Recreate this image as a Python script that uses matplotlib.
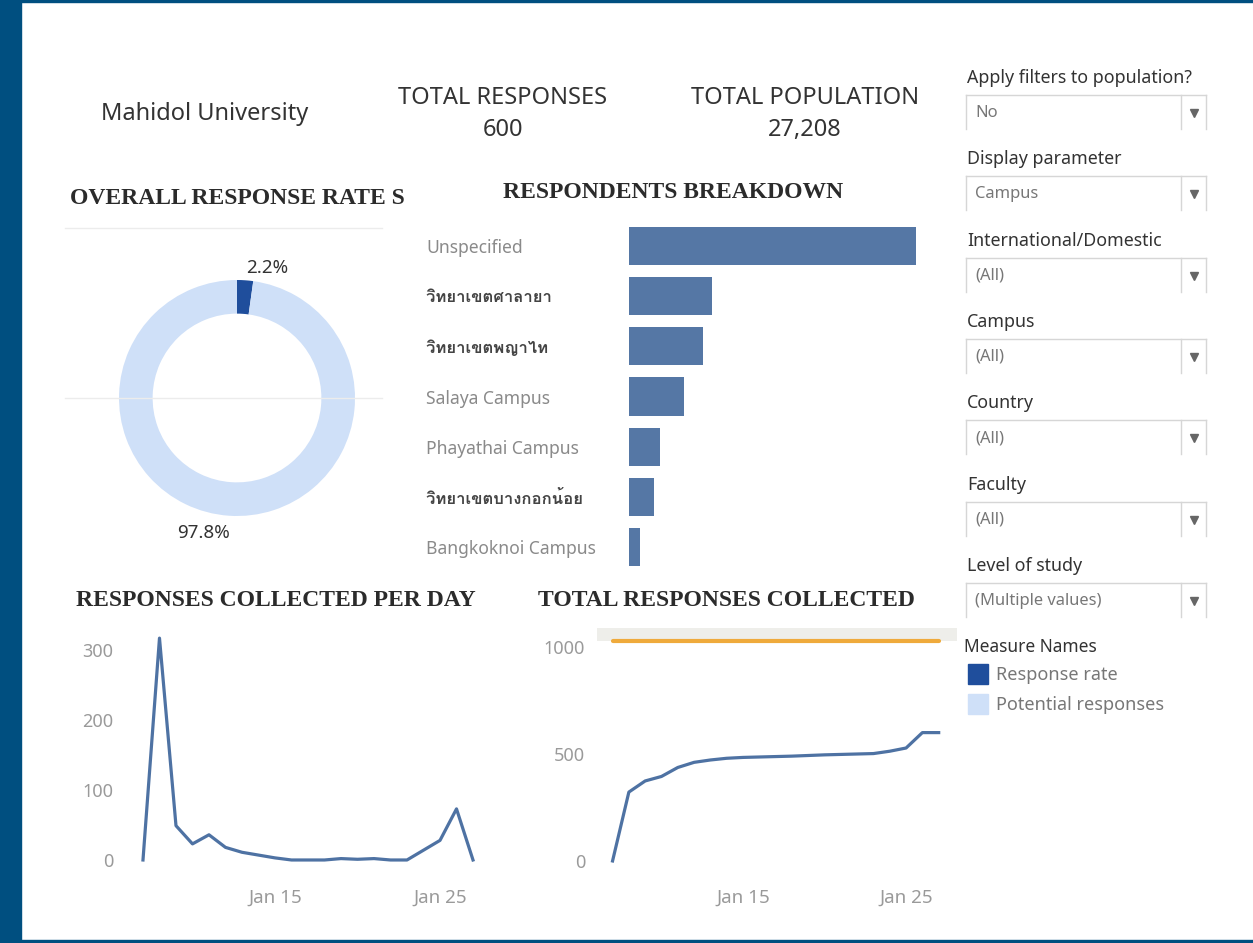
import datetime as dt

import matplotlib
matplotlib.use('Agg')
import matplotlib.pyplot as plt
import matplotlib.dates as mdates
from matplotlib import font_manager, ft2font
from matplotlib.lines import Line2D
from matplotlib.patches import Rectangle

# ---- data ----
header_title = 'Mahidol University'
total_responses = 600
total_population = 27208

rate_labels = ['Response rate', 'Potential responses']
rate_values = [2.2, 97.8]

campus_names = ['Unspecified', 'วิทยาเขตศาลายา', 'วิทยาเขตพญาไท', 'Salaya Campus',
                'Phayathai Campus', 'วิทยาเขตบางกอกน้อย', 'Bangkoknoi Campus']
campus_counts = [304, 88, 78, 58, 33, 27, 12]

day_numbers = list(range(7, 28))  # Jan 7 .. Jan 27
daily_responses = [0, 317, 49, 23, 36, 18, 11, 7, 3, 0, 0, 0, 2, 1, 2, 0, 0, 14, 28, 73, 0]
cumulative_responses = [0, 322, 374, 395, 437, 461, 472, 480, 484, 486, 488, 490, 493,
                        496, 498, 500, 502, 513, 528, 600, 600]
target_responses = 1030

filter_labels = ['Apply filters to population?', 'Display parameter', 'International/Domestic',
                 'Campus', 'Country', 'Faculty', 'Level of study']
filter_values = ['No', 'Campus', '(All)', '(All)', '(All)', '(All)', '(Multiple values)']

# ---- fonts ----
SANS = ['Noto Sans', 'DejaVu Sans']
SERIF = ['Liberation Serif', 'DejaVu Serif']


def find_thai_font():
    for f in font_manager.fontManager.ttflist:
        try:
            if ft2font.FT2Font(f.fname).get_char_index(0x0E27):
                return f.name
        except Exception:
            pass
    return None


thai_font = find_thai_font()
THAI = ([thai_font] if thai_font else []) + SANS
plt.rcParams['font.family'] = SANS

W, H = 1253, 943
fig = plt.figure(figsize=(W / 100, H / 100), dpi=100)


def fx(x):
    return x / W


def fy(y):
    return 1 - y / H


def px_axes(left, top, right, bottom):
    return fig.add_axes([fx(left), fy(bottom), (right - left) / W, (bottom - top) / H])


# frame
frame_col = '#004f80'
fig.patches.append(Rectangle((0, 0), 21 / W, 1, transform=fig.transFigure, color=frame_col))
fig.patches.append(Rectangle((0, fy(2)), 1, 2 / H, transform=fig.transFigure, color=frame_col))
fig.patches.append(Rectangle((0, 0), 1, 3 / H, transform=fig.transFigure, color=frame_col))

# header
head_kw = dict(fontsize=17, color='#333333', ha='center', va='center')
fig.text(fx(205), fy(114), header_title, **head_kw)
fig.text(fx(503), fy(98), 'TOTAL RESPONSES', **head_kw)
fig.text(fx(503), fy(130), f'{total_responses:,}', **head_kw)
fig.text(fx(805), fy(98), 'TOTAL POPULATION', **head_kw)
fig.text(fx(805), fy(130), f'{total_population:,}', **head_kw)

# section titles
title_kw = dict(family=SERIF, fontweight='bold', fontsize=17, color='#2b2b2b', va='center')
fig.text(fx(70), fy(199), 'OVERALL RESPONSE RATE S', ha='left', **title_kw)
fig.text(fx(673), fy(193), 'RESPONDENTS BREAKDOWN', ha='center', **title_kw)
fig.text(fx(276), fy(600), 'RESPONSES COLLECTED PER DAY', ha='center', **title_kw)
fig.text(fx(726), fy(600), 'TOTAL RESPONSES COLLECTED', ha='center', **title_kw)

# ---- donut ----
dark_blue = '#1f4e9c'
light_blue = '#cfe0f8'
fig.add_artist(Line2D([fx(65), fx(382)], [fy(228), fy(228)], color='#ececec', lw=1))
fig.add_artist(Line2D([fx(65), fx(382)], [fy(398), fy(398)], color='#ececec', lw=1))
ax_d = px_axes(119, 280, 355, 516)
ax_d.pie(rate_values, colors=[dark_blue, light_blue], startangle=90, counterclock=False,
         radius=1, wedgeprops=dict(width=0.285, edgecolor='none'))
ax_d.set_xlim(-1, 1)
ax_d.set_ylim(-1, 1)
ax_d.axis('off')
fig.text(fx(267), fy(268), f'{rate_values[0]}%', fontsize=13.5, color='#333333', ha='center', va='center')
fig.text(fx(203), fy(533), f'{rate_values[1]}%', fontsize=13.5, color='#333333', ha='center', va='center')

# ---- respondents breakdown ----
bar_col = '#5577a5'
ax_b = px_axes(629, 221, 916, 572)
ypos = list(range(len(campus_names)))
ax_b.barh(ypos, campus_counts, height=0.76, color=bar_col)
ax_b.set_xlim(0, max(campus_counts))
ax_b.set_ylim(len(campus_names) - 0.5, -0.5)
ax_b.set_xticks([])
ax_b.set_yticks(ypos)
ax_b.set_yticklabels(campus_names)
ax_b.tick_params(axis='y', length=0, pad=203 / 1.389)
for lab in ax_b.get_yticklabels():
    lab.set_horizontalalignment('left')
    if any('\u0e00' <= ch <= '\u0e7f' for ch in lab.get_text()):
        lab.set_family(THAI)
        lab.set_fontweight('bold')
        lab.set_color('#444444')
        lab.set_fontsize(12)
    else:
        lab.set_color('#8a8a8a')
        lab.set_fontsize(12.6)
for s in ax_b.spines.values():
    s.set_visible(False)

# ---- line charts ----
line_col = '#4e72a3'
jan = [dt.datetime(2022, 1, d) for d in day_numbers]
jan15 = dt.datetime(2022, 1, 15)


def style_line_axes(ax, yticks, ypad):
    ax.set_yticks(yticks)
    ax.set_xticks([dt.datetime(2022, 1, 15), dt.datetime(2022, 1, 25)])
    ax.xaxis.set_major_formatter(mdates.DateFormatter('%b %d'))
    ax.tick_params(length=0, colors='#9a9a9a')
    ax.tick_params(axis='y', labelsize=13, pad=ypad / 1.389)
    ax.tick_params(axis='x', labelsize=13.5, pad=9 / 1.389)
    for s in ax.spines.values():
        s.set_visible(False)


ax1 = px_axes(125, 630, 490, 880)
ax1.plot(jan, daily_responses, color=line_col, lw=2.3)
ax1.set_xlim(jan15 + dt.timedelta(days=-9.09), jan15 + dt.timedelta(days=13.03))
ax1.set_ylim(-28.6, 328.6)
style_line_axes(ax1, [0, 100, 200, 300], 12)

ax2 = px_axes(600, 625, 955, 880)
ax2.axhspan(1028, 1089, xmin=-3 / 355, xmax=357 / 355, color='#eeeeea', clip_on=False, lw=0)
ax2.plot([jan[0], jan[-1]], [target_responses, target_responses], color='#efaa3c', lw=3,
         solid_capstyle='round')
ax2.plot(jan, cumulative_responses, color=line_col, lw=2.3)
ax2.set_xlim(jan15 + dt.timedelta(days=-8.77), jan15 + dt.timedelta(days=13.0))
ax2.set_ylim(-89, 1103)
style_line_axes(ax2, [0, 500, 1000], 15)

# ---- filter panel ----
box_col = '#d6d6d6'
for i, (lab, val) in enumerate(zip(filter_labels, filter_values)):
    ly = 78 + i * 81.3
    fig.text(fx(967), fy(ly), lab, fontsize=12.8, color='#333333', ha='left', va='center')
    top, bot = ly + 17, ly + 51
    for xs, ys in [([966, 1206], [top, top]), ([966, 966], [top, bot]),
                   ([1206, 1206], [top, bot]), ([1181, 1181], [top, bot])]:
        fig.add_artist(Line2D([fx(x) for x in xs], [fy(y) for y in ys], color=box_col, lw=1))
    fig.text(fx(975), fy(ly + 35), val, fontsize=11.9, color='#777777', ha='left', va='center')
    fig.add_artist(Line2D([fx(1194)], [fy(ly + 35)], marker='v', markersize=5.5,
                          color='#666666', lw=0))

# ---- legend ----
fig.text(fx(964), fy(647), 'Measure Names', fontsize=12.5, color='#333333', ha='left', va='center')
for k, (lab, col) in enumerate(zip(rate_labels, [dark_blue, light_blue])):
    yc = 674 + k * 29.5
    fig.patches.append(Rectangle((fx(968), fy(yc + 10)), 20 / W, 20 / H,
                                 transform=fig.transFigure, color=col))
    fig.text(fx(996), fy(yc + 1), lab, fontsize=13, color='#777777', ha='left', va='center')

fig.savefig('out.png', dpi=100)
